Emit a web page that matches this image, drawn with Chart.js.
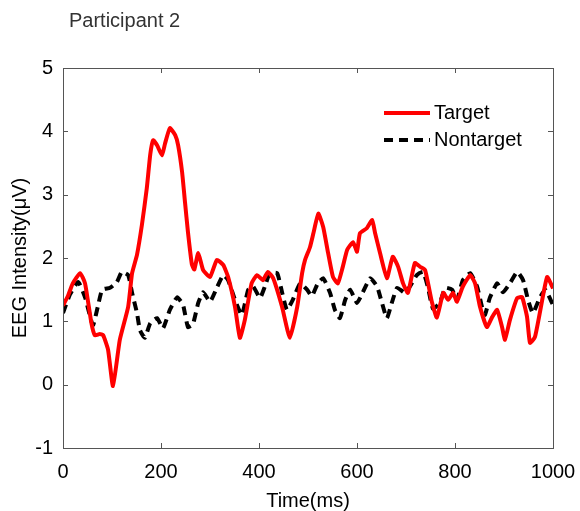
<!DOCTYPE html>
<html>
<head>
<meta charset="utf-8">
<script src="https://cdn.jsdelivr.net/npm/chart.js@4.4.1/dist/chart.umd.min.js"></script>
<style>
  html, body { margin: 0; padding: 0; background: #fff; }
  #wrap { width: 580px; height: 511px; }
</style>
</head>
<body>
<div id="wrap"><canvas id="eeg"></canvas></div>
<script>
// values (time in ms, intensity in uV)
var targetTime = [0, 10, 20, 35, 45, 58, 65, 75, 82, 92, 102, 116, 133, 141, 151, 161, 171, 178, 184, 192,
  202, 208, 218, 229, 235, 243, 249, 255, 263, 268, 276, 286, 300, 314, 327, 337, 351, 361, 371, 385,
  396, 408, 418, 429, 447, 463, 478, 488, 494, 504, 511, 521, 531, 541, 551, 561, 571, 580, 592, 600,
  606, 620, 631, 637, 647, 661, 673, 684, 694, 704, 718, 729, 739, 753, 763, 776, 786, 796, 804, 816,
  831, 841, 851, 865, 876, 886, 896, 902, 912, 927, 937, 947, 953, 963, 973, 988, 1000];
var targetValue = [1.25, 1.4, 1.6, 1.76, 1.6, 0.97, 0.78, 0.8, 0.78, 0.55, -0.02, 0.71, 1.23, 1.76, 2.05, 2.52, 3.1, 3.63, 3.86, 3.78,
  3.62, 3.8, 4.05, 3.94, 3.78, 3.36, 2.88, 2.41, 1.9, 1.82, 2.08, 1.81, 1.7, 1.97, 1.89, 1.7, 1.23, 0.74, 1.02, 1.6,
  1.73, 1.65, 1.78, 1.68, 1.23, 0.74, 1.23, 1.76, 1.97, 2.17, 2.39, 2.7, 2.49, 2.08, 1.7, 1.6, 1.86, 2.13, 2.25, 2.1,
  2.39, 2.47, 2.6, 2.39, 2.08, 1.68, 2.02, 1.86, 1.6, 1.45, 1.92, 1.86, 1.81, 1.3, 1.06, 1.45, 1.34, 1.45, 1.31, 1.55,
  1.73, 1.6, 1.23, 0.91, 1.07, 1.18, 0.91, 0.71, 1.02, 1.37, 1.38, 1.07, 0.66, 0.75, 1.13, 1.7, 1.52];

var nontargetTime = [0, 14, 31, 45, 61, 71, 80, 96, 110, 120, 133, 141, 151, 157, 167, 178, 192, 204, 218, 233,
  245, 255, 265, 276, 286, 300, 314, 327, 337, 351, 365, 378, 388, 402, 412, 422, 437, 447, 457, 469,
  484, 498, 508, 520, 531, 545, 555, 565, 576, 586, 600, 612, 627, 641, 651, 661, 671, 682, 698, 708,
  722, 735, 745, 755, 769, 780, 794, 804, 816, 831, 845, 855, 861, 871, 886, 898, 912, 927, 939, 949,
  959, 973, 984, 1000];
var nontargetValue = [1.13, 1.42, 1.62, 1.38, 0.94, 1.23, 1.5, 1.53, 1.62, 1.78, 1.73, 1.45, 1.13, 0.86, 0.74, 0.97, 1.05, 0.89, 1.18, 1.38,
  1.26, 0.91, 0.95, 1.29, 1.46, 1.31, 1.53, 1.73, 1.65, 1.34, 1.1, 1.5, 1.55, 1.37, 1.55, 1.76, 1.76, 1.46, 1.18, 1.34,
  1.6, 1.5, 1.4, 1.6, 1.68, 1.45, 1.18, 1.05, 1.34, 1.5, 1.29, 1.46, 1.68, 1.55, 1.29, 1.05, 1.29, 1.53, 1.45, 1.55,
  1.73, 1.78, 1.53, 1.2, 1.29, 1.53, 1.5, 1.34, 1.65, 1.76, 1.55, 1.23, 1.1, 1.37, 1.6, 1.46, 1.6, 1.78, 1.65, 1.34,
  1.13, 1.37, 1.5, 1.26];

var xTicks = [0, 200, 400, 600, 800, 1000];
var yTicks = [-1, 0, 1, 2, 3, 4, 5];
var seriesNames = ["Target", "Nontarget"];
var chartTitle = "Participant 2";

function toPoints(xs, ys) {
  var out = [];
  for (var i = 0; i < xs.length; i++) out.push({x: xs[i], y: ys[i]});
  return out;
}

var FONT = "'Liberation Sans', Arial, Helvetica, sans-serif";
var AXIS = "#555";

// matlab style box, inward ticks, title and legend inside the axes
var matlabBox = {
  id: 'matlabBox',
  afterDraw: function(chart) {
    var ctx = chart.ctx, a = chart.chartArea;
    var xs = chart.scales.x, ys = chart.scales.y;
    var len = 5;
    ctx.save();
    ctx.strokeStyle = AXIS;
    ctx.lineWidth = 1;
    ctx.strokeRect(a.left + 0.5, a.top + 0.5, a.right - a.left, a.bottom - a.top);
    ctx.beginPath();
    xTicks.forEach(function(t) {
      var px = Math.round(xs.getPixelForValue(t)) + 0.5;
      ctx.moveTo(px, a.bottom); ctx.lineTo(px, a.bottom - len);
      ctx.moveTo(px, a.top); ctx.lineTo(px, a.top + len);
    });
    yTicks.forEach(function(t) {
      var py = Math.round(ys.getPixelForValue(t)) + 0.5;
      ctx.moveTo(a.left, py); ctx.lineTo(a.left + len, py);
      ctx.moveTo(a.right, py); ctx.lineTo(a.right - len, py);
    });
    ctx.stroke();

    // title, top left
    ctx.fillStyle = "#333";
    ctx.font = "20px " + FONT;
    ctx.textBaseline = "middle";
    ctx.textAlign = "left";
    ctx.fillText(chartTitle, 69, 21);

    // legend
    var lx = 384, ly = 113, gap = 27;
    chart.data.datasets.forEach(function(ds, i) {
      var y = ly + i * gap;
      ctx.strokeStyle = ds.borderColor;
      ctx.lineWidth = 4;
      ctx.setLineDash(ds.borderDash || []);
      ctx.beginPath();
      ctx.moveTo(lx, y); ctx.lineTo(lx + 46, y);
      ctx.stroke();
      ctx.setLineDash([]);
      ctx.fillStyle = "#000";
      ctx.font = "20px " + FONT;
      ctx.fillText(ds.label, lx + 50, y);
    });
    ctx.restore();
  }
};

new Chart(document.getElementById("eeg"), {
  type: 'line',
  data: {
    datasets: [{
      label: seriesNames[0],
      data: toPoints(targetTime, targetValue),
      borderColor: "#ff0000",
      borderWidth: 4,
      pointRadius: 0,
      tension: 0.15,
      fill: false
    }, {
      label: seriesNames[1],
      data: toPoints(nontargetTime, nontargetValue),
      borderColor: "#000000",
      borderWidth: 4,
      borderDash: [9, 6],
      pointRadius: 0,
      tension: 0.15,
      fill: false
    }]
  },
  options: {
    responsive: true,
    maintainAspectRatio: false,
    animation: false,
    layout: { padding: { top: 68, right: 27, left: 0, bottom: 0 } },
    plugins: {
      legend: { display: false },
      tooltip: { enabled: false },
      title: { display: false }
    },
    scales: {
      x: {
        type: 'linear',
        min: 0, max: 1000,
        afterBuildTicks: function(scale) {
          scale.ticks = xTicks.map(function(v) { return {value: v}; });
        },
        afterFit: function(scale) {
          scale.height = 63;
          scale.paddingLeft = 0;
          scale.paddingRight = 0;
        },
        grid: { display: false, drawTicks: false },
        border: { display: false },
        ticks: {
          color: "#000", font: { family: FONT, size: 20 }, padding: 12, maxRotation: 0,
          callback: function(v) { return String(v); }
        },
        title: { display: true, text: "Time(ms)", color: "#000", font: { family: FONT, size: 20, lineHeight: 1 }, padding: { top: 0, bottom: 0 } }
      },
      y: {
        min: -1, max: 5,
        afterBuildTicks: function(scale) {
          scale.ticks = yTicks.map(function(v) { return {value: v}; });
        },
        afterFit: function(scale) {
          scale.width = 63;
          scale.paddingTop = 0;
          scale.paddingBottom = 0;
        },
        grid: { display: false, drawTicks: false },
        border: { display: false },
        ticks: { color: "#000", font: { family: FONT, size: 20 }, padding: 10 },
        title: { display: true, text: "EEG Intensity(\u03bcV)", color: "#000", font: { family: FONT, size: 20, lineHeight: 1 }, padding: { top: 10, bottom: 0 } }
      }
    }
  },
  plugins: [matlabBox]
});
</script>
</body>
</html>
